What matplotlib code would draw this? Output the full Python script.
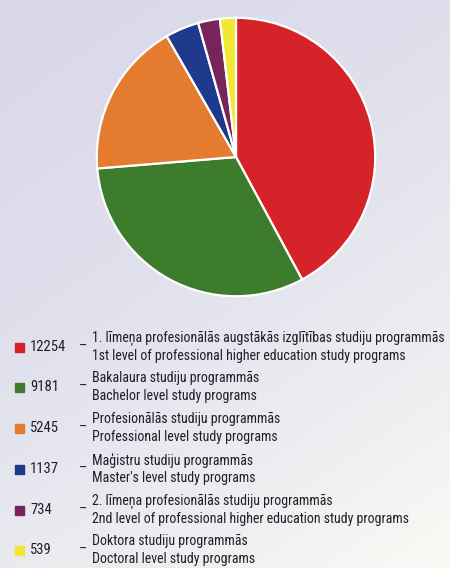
import matplotlib.pyplot as plt
import numpy as np

# -- data
values = [12254, 9181, 5245, 1137, 734, 539]
colors = ['#d52329', '#3d7c2c', '#e57b2f', '#1f3a8c', '#77245a', '#f2e833']
labels_lv = ['1. līmeņa profesionālās augstākās izglītības studiju programmās',
             'Bakalaura studiju programmās',
             'Profesionālās studiju programmās',
             'Maģistru studiju programmās',
             '2. līmeņa profesionālās studiju programmās',
             'Doktora studiju programmās']
labels_en = ['1st level of professional higher education study programs',
             'Bachelor level study programs',
             'Professional level study programs',
             "Master's level study programs",
             '2nd level of professional higher education study programs',
             'Doctoral level study programs']

W, H = 450, 568
fonts = ['Roboto Condensed', 'DejaVu Sans']
txtcol = '#1f1f2a'

fig = plt.figure(figsize=(W / 100, H / 100), dpi=100)

# -- background gradient (lavender top-left -> near white bottom-right)
bg = fig.add_axes([0, 0, 1, 1])
gx, gy = np.meshgrid(np.linspace(0, 1, 200), np.linspace(0, 1, 250))
t = np.clip(0.35 * gx + 0.65 * gy, 0, 1) ** 1.6
c_top = np.array([0.85, 0.85, 0.92])
c_bot = np.array([0.98, 0.98, 0.96])
img = c_top + (c_bot - c_top) * t[:, :, None]
bg.imshow(img, aspect='auto', extent=[0, 1, 0, 1])
bg.set_axis_off()

# -- pie
cx, cy, r = 236, 157, 142
ax = fig.add_axes([(cx - r) / W, 1 - (cy + r) / H, 2 * r / W, 2 * r / H])
ax.pie(values, colors=colors, startangle=90, counterclock=False,
       wedgeprops=dict(edgecolor='white', linewidth=1.6))
ax.set_xlim(-1.02, 1.02)
ax.set_ylim(-1.02, 1.02)
ax.set_aspect('equal')

# -- legend
row_y = [347, 387, 428, 469, 510, 550]
for i, v in enumerate(values):
    y = 1 - row_y[i] / H
    fig.patches.append(plt.Rectangle((15 / W, 1 - (row_y[i] + 4.5) / H), 9 / W, 9 / H,
                                     transform=fig.transFigure, color=colors[i]))
    fig.text(30 / W, y, str(v), fontsize=10.5, family=fonts, color=txtcol,
             ha='left', va='center')
    fig.text(79 / W, y, '–', fontsize=10.5, family=fonts, color=txtcol,
             ha='left', va='center')
    fig.text(92 / W, 1 - (row_y[i] - 9) / H, labels_lv[i], fontsize=10, family=fonts,
             color=txtcol, ha='left', va='center')
    fig.text(92 / W, 1 - (row_y[i] + 9) / H, labels_en[i], fontsize=10, family=fonts,
             color=txtcol, ha='left', va='center')

fig.savefig('out.png', dpi=100)
